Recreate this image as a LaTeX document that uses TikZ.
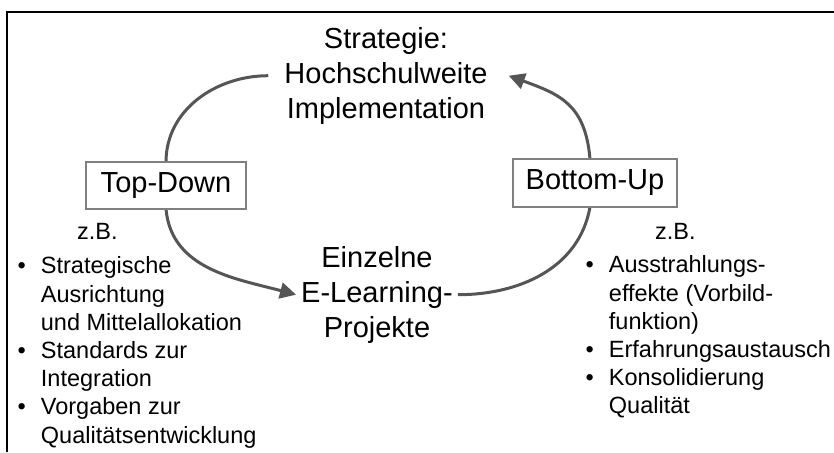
\documentclass[tikz,border=0pt]{standalone}
\usepackage{fontspec}
\setmainfont{Liberation Sans}
\usetikzlibrary{arrows.meta, positioning}
\definecolor{bogengrau}{HTML}{555555}
\definecolor{rahmengrau}{HTML}{7F7F7F}
\tikzset{
  % grosse Beschriftung im Kreislauf
  haupt/.style={align=center, inner sep=0pt, font=\fontsize{29}{35}\selectfont},
  % Kasten fuer die Richtung
  richtung/.style={draw=rahmengrau, line width=1.1pt, fill=white, inner sep=0pt,
    font=\fontsize{29}{35}\selectfont},
  % kleine Texte und Listen
  klein/.style={inner sep=0pt, font=\fontsize{23.5}{28.2}\selectfont},
  % Bogen des Kreislaufs
  bogen/.style={line width=3pt, bogengrau},
  bogenpfeil/.style={bogen, -{Triangle[length=16pt, width=16pt]}},
}
\newcommand{\punkt}{\textbullet}

\begin{document}
\begin{tikzpicture}[x=1pt, y=1pt]
  \useasboundingbox (0,0) rectangle (834,452);
  % Rahmen (rechts und unten abgeschnitten)
  \draw[line width=2.3pt] (7,0) -- (7,440) -- (834,440);

  \node[haupt, anchor=north] (strat) at (386,425) {Strategie:\\Hochschulweite\\Implementation};
  \node[haupt, anchor=north] (einz) at (377,206) {Einzelne\\E-Learning-\\Projekte};

  % Boegen zuerst, Kaesten liegen darueber
  \draw[bogen] ([xshift=-16pt]strat.west) to[out=180, in=90] (166,290) coordinate (tdn);
  \draw[bogenpfeil] (166,243) coordinate (tds) to[out=-85, in=165] ([xshift=-5pt]einz.west);
  \draw[bogen] ([xshift=5pt]einz.east) to[out=0, in=-100] (590,245) coordinate (bus);
  \draw[bogenpfeil] (590,293) coordinate (bun) to[out=95, in=-20, looseness=1.2] ([xshift=21pt]strat.east);

  \node[richtung, minimum width=160pt, minimum height=47pt] (td) at (166,266.5) {Top-Down};
  \node[richtung, minimum width=164pt, minimum height=48pt] (bu) at (595,269) {Bottom-Up};

  \node[klein, anchor=base west] (zbl) at (77,212) {z.B.};
  \node[klein, anchor=base west] (zbr) at (655,212) {z.B.};

  \node[klein, anchor=base west] (listel) at (17.5,178) {%
    \begin{tabular}[t]{@{}l@{\hspace{15pt}}l@{}}
      \punkt & Strategische\\
             & Ausrichtung\\
             & und Mittelallokation\\
      \punkt & Standards zur\\
             & Integration\\
      \punkt & Vorgaben zur\\
             & Qualitätsentwicklung
    \end{tabular}};
  \node[klein, anchor=base west] (lister) at (585.5,179) {%
    \begin{tabular}[t]{@{}l@{\hspace{15pt}}l@{}}
      \punkt & Ausstrahlungs-\\
             & effekte (Vorbild-\\
             & funktion)\\
      \punkt & Erfahrungsaustausch\\
      \punkt & Konsolidierung\\
             & Qualität
    \end{tabular}};
\end{tikzpicture}
\end{document}
